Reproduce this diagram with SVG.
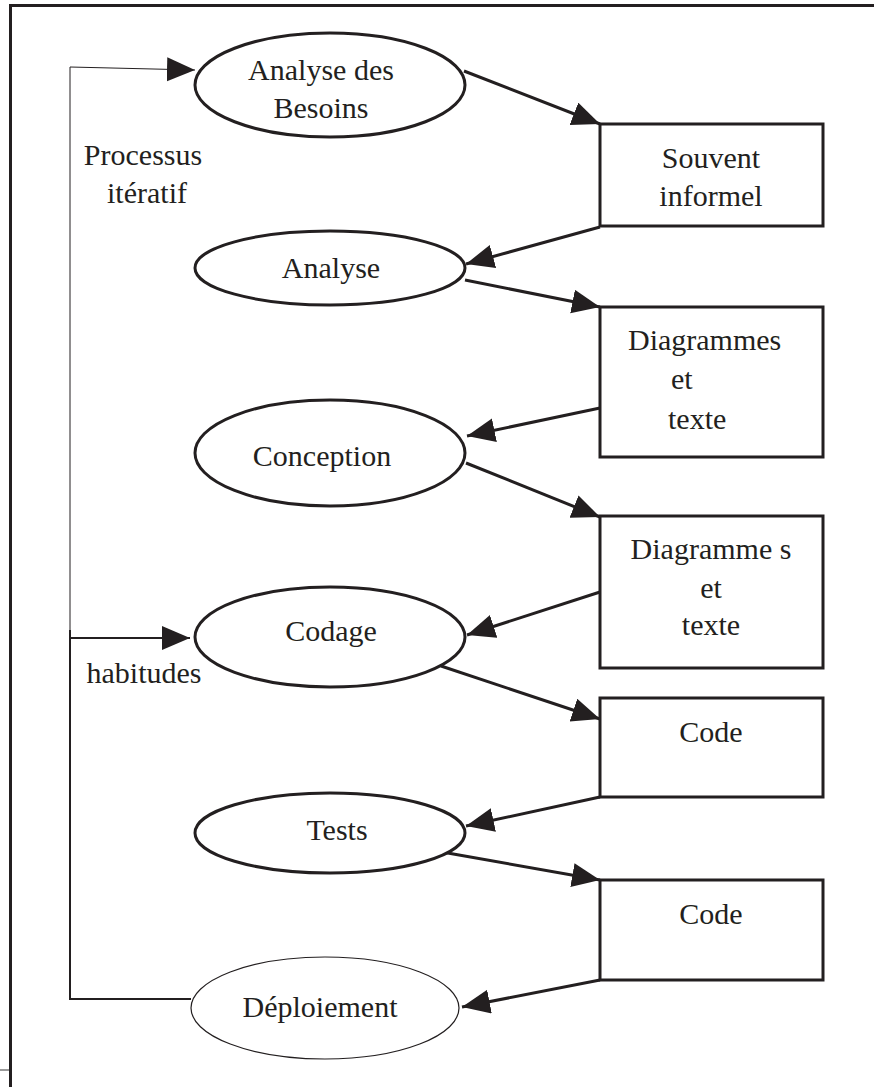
<svg xmlns="http://www.w3.org/2000/svg" width="874" height="1087" viewBox="0 0 874 1087">
  <style>
    .lbl { font-family: "Liberation Serif", "Times New Roman", serif; font-size: 30px; fill: #231f20; }
    .mid { text-anchor: middle; }
    .node { fill: #ffffff; stroke: #231f20; stroke-width: 3; }
    .thin { fill: #ffffff; stroke: #231f20; stroke-width: 1.2; }
    .edge { fill: none; stroke: #231f20; stroke-width: 3; marker-end: url(#head); }
    .loop { fill: none; stroke: #231f20; }
  </style>
  <defs>
    <marker id="head" markerUnits="userSpaceOnUse" markerWidth="30" markerHeight="26" refX="28" refY="12" orient="auto">
      <path d="M0,0 L28,12 L0,24 Z" fill="#231f20"/>
    </marker>
  </defs>
  <rect width="874" height="1087" fill="#ffffff"/>

  <!-- page frame -->
  <g id="frame">
    <line x1="9" y1="5.5" x2="874" y2="5.5" stroke="#231f20" stroke-width="3"/>
    <line x1="10.5" y1="4" x2="10.5" y2="1087" stroke="#231f20" stroke-width="3"/>
    <line x1="0" y1="1070" x2="9" y2="1070" stroke="#9a9a9a" stroke-width="2"/>
  </g>

  <!-- connectors -->
  <g id="connectors">
    <line class="edge" x1="464" y1="71" x2="600" y2="124"/>
    <line class="edge" x1="600" y1="227" x2="466" y2="264"/>
    <line class="edge" x1="465" y1="280" x2="600" y2="307"/>
    <line class="edge" x1="600" y1="408" x2="467" y2="436"/>
    <line class="edge" x1="466" y1="463" x2="600" y2="517"/>
    <line class="edge" x1="600" y1="592" x2="467" y2="635"/>
    <line class="edge" x1="441" y1="666" x2="600" y2="719"/>
    <line class="edge" x1="600" y1="797" x2="466" y2="826"/>
    <line class="edge" x1="442" y1="852" x2="600" y2="880"/>
    <line class="edge" x1="600" y1="980" x2="462" y2="1007"/>
    <!-- iteration loop on the left -->
    <polyline class="loop" stroke-width="1" points="70,638 70,67 195,70" marker-end="url(#head)"/>
    <polyline class="loop" stroke-width="2" points="191,999 70,999 70,630"/>
    <line class="loop" stroke-width="2" x1="70" y1="638" x2="190" y2="638" marker-end="url(#head)"/>
  </g>

  <g id="analyse-besoins">
    <ellipse class="node" cx="330" cy="85" rx="135" ry="52"/>
    <text class="lbl mid" x="321" y="80">Analyse des</text>
    <text class="lbl mid" x="321" y="118">Besoins</text>
  </g>
  <g id="souvent-informel">
    <rect class="node" x="600" y="124" width="223" height="102"/>
    <text class="lbl mid" x="711" y="168">Souvent</text>
    <text class="lbl mid" x="711" y="206">informel</text>
  </g>
  <g id="analyse">
    <ellipse class="node" cx="330" cy="268" rx="135" ry="37"/>
    <text class="lbl mid" x="331" y="278">Analyse</text>
  </g>
  <g id="diagrammes-1">
    <rect class="node" x="600" y="307" width="223" height="150"/>
    <text class="lbl" x="628" y="350">Diagrammes</text>
    <text class="lbl" x="671" y="389">et</text>
    <text class="lbl" x="668" y="429">texte</text>
  </g>
  <g id="conception">
    <ellipse class="node" cx="330" cy="453" rx="135" ry="53"/>
    <text class="lbl mid" x="322" y="466">Conception</text>
  </g>
  <g id="diagrammes-2">
    <rect class="node" x="600" y="516" width="223" height="152"/>
    <text class="lbl mid" x="711" y="559">Diagramme s</text>
    <text class="lbl mid" x="711" y="598">et</text>
    <text class="lbl mid" x="711" y="635">texte</text>
  </g>
  <g id="codage">
    <ellipse class="node" cx="330" cy="637" rx="135" ry="50"/>
    <text class="lbl mid" x="331" y="641">Codage</text>
  </g>
  <g id="code-1">
    <rect class="node" x="600" y="698" width="223" height="99"/>
    <text class="lbl mid" x="711" y="742">Code</text>
  </g>
  <g id="tests">
    <ellipse class="node" cx="330" cy="833" rx="135" ry="40"/>
    <text class="lbl mid" x="337" y="840">Tests</text>
  </g>
  <g id="code-2">
    <rect class="node" x="600" y="880" width="223" height="100"/>
    <text class="lbl mid" x="711" y="924">Code</text>
  </g>
  <g id="deploiement">
    <ellipse class="thin" cx="325" cy="1008" rx="134" ry="51"/>
    <text class="lbl mid" x="320" y="1017">Déploiement</text>
  </g>

  <g id="loop-labels">
    <text class="lbl mid" x="143" y="165">Processus</text>
    <text class="lbl mid" x="147" y="203">itératif</text>
    <text class="lbl mid" x="144" y="683">habitudes</text>
  </g>
</svg>
